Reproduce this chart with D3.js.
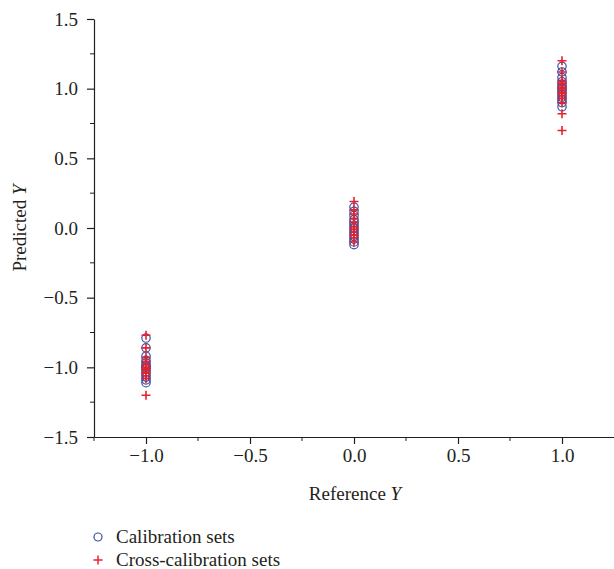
<!DOCTYPE html>
<html>
<head>
<meta charset="utf-8">
<script src="https://cdn.jsdelivr.net/npm/d3@7"></script>
<style>
  body { margin: 0; background: #fff; }
  svg text { font-family: "Liberation Serif", "DejaVu Serif", serif; fill: #231f20; }
</style>
</head>
<body>
<div id="container"></div>
<script>
const width = 614;
const height = 569;
const margin = { top: 19, right: 0, bottom: 132, left: 94 };

// reference classes
const classes = [-1, 0, 1];

// predicted values, one list per class
const calibration = [
    [-0.79, -0.86, -0.92, -0.95, -0.97, -0.99, -1.0, -1.01, -1.03, -1.05, -1.07, -1.09, -1.11],
    [0.15, 0.12, 0.09, 0.06, 0.04, 0.02, 0.0, -0.02, -0.04, -0.06, -0.08, -0.10, -0.12],
    [1.16, 1.12, 1.08, 1.05, 1.03, 1.01, 1.0, 0.98, 0.96, 0.94, 0.92, 0.9, 0.87]
];
const crossCalibration = [
    [-0.77, -0.86, -0.93, -0.96, -0.98, -1.0, -1.01, -1.02, -1.04, -1.06, -1.08, -1.2],
    [0.19, 0.13, 0.1, 0.07, 0.04, 0.01, -0.01, -0.03, -0.05, -0.07, -0.1],
    [1.2, 1.12, 1.06, 1.04, 1.02, 1.0, 0.99, 0.97, 0.95, 0.93, 0.9, 0.82, 0.7]
];

const xTicks = [-1.0, -0.5, 0.0, 0.5, 1.0];
const xMinor = [-1.25, -0.75, -0.25, 0.25, 0.75];
const yTicks = [1.5, 1.0, 0.5, 0.0, -0.5, -1.0, -1.5];
const yMinor = [1.25, 0.75, 0.25, -0.25, -0.75, -1.25];

const blue = "#3a4ea3";
const red = "#e8202a";
const fontSize = 19;
const serif = "'Liberation Serif', 'DejaVu Serif', serif";

const fmt = d => d3.format(".1f")(d).replace("-", "\u2212");

const svg = d3.select("#container").append("svg")
    .attr("width", width)
    .attr("height", height);

const xScale = d3.scaleLinear().domain([-1.25, 1.25]).range([margin.left, width - margin.right]);
const yScale = d3.scaleLinear().domain([-1.5, 1.5]).range([height - margin.bottom, margin.top]);

// x axis
const xaxis = svg.append("g")
    .attr("transform", "translate(0," + (height - margin.bottom) + ")")
    .call(d3.axisBottom(xScale).tickValues(xTicks).tickFormat(fmt).tickSize(7).tickPadding(5).tickSizeOuter(0));
xaxis.append("g").selectAll("line")
    .data(xMinor)
    .enter().append("line")
    .attr("x1", d => xScale(d)).attr("x2", d => xScale(d))
    .attr("y1", 0).attr("y2", 4)
    .attr("stroke", "#231f20");

// y axis
const yaxis = svg.append("g")
    .attr("transform", "translate(" + margin.left + ",0)")
    .call(d3.axisLeft(yScale).tickValues(yTicks).tickFormat(fmt).tickSize(7).tickPadding(9).tickSizeOuter(0));
yaxis.append("g").selectAll("line")
    .data(yMinor)
    .enter().append("line")
    .attr("x1", 0).attr("x2", -4)
    .attr("y1", d => yScale(d)).attr("y2", d => yScale(d))
    .attr("stroke", "#231f20");

svg.selectAll(".domain, .tick line").attr("stroke", "#231f20").attr("stroke-width", 1.2);
xaxis.attr("font-family", serif).attr("font-size", fontSize);
yaxis.attr("font-family", serif).attr("font-size", fontSize);
svg.selectAll(".tick text").attr("fill", "#231f20");

// axis titles
svg.append("text")
    .attr("x", (margin.left + 614) / 2 + 1)
    .attr("y", 500)
    .attr("text-anchor", "middle")
    .style("font-size", fontSize + "px")
    .html("Reference <tspan font-style='italic'>Y</tspan>");

svg.append("text")
    .attr("transform", "translate(26," + yScale(0) + ") rotate(-90)")
    .attr("text-anchor", "middle")
    .style("font-size", fontSize + "px")
    .html("Predicted <tspan font-style='italic'>Y</tspan>");

// points
const calPts = [];
calibration.forEach((vals, i) => vals.forEach(v => calPts.push({ x: classes[i], y: v })));
const crossPts = [];
crossCalibration.forEach((vals, i) => vals.forEach(v => crossPts.push({ x: classes[i], y: v })));

svg.append("g").selectAll("circle")
    .data(calPts)
    .enter().append("circle")
    .attr("cx", d => xScale(d.x))
    .attr("cy", d => yScale(d.y))
    .attr("r", 4.2)
    .attr("fill", "none")
    .attr("stroke", blue)
    .attr("stroke-width", 1.2);

const plusPath = "M-4.5,0H4.5M0,-4.5V4.5";
svg.append("g").selectAll("path")
    .data(crossPts)
    .enter().append("path")
    .attr("transform", d => "translate(" + xScale(d.x) + "," + yScale(d.y) + ")")
    .attr("d", plusPath)
    .attr("stroke", red)
    .attr("stroke-width", 1.6)
    .attr("fill", "none");

// legend
const legend = svg.append("g");
legend.append("circle")
    .attr("cx", 98).attr("cy", 537).attr("r", 4)
    .attr("fill", "none").attr("stroke", blue).attr("stroke-width", 1.2);
legend.append("text")
    .attr("x", 116).attr("y", 543)
    .style("font-size", fontSize + "px")
    .text("Calibration sets");
legend.append("path")
    .attr("transform", "translate(98,560)")
    .attr("d", plusPath)
    .attr("stroke", red).attr("stroke-width", 1.5);
legend.append("text")
    .attr("x", 116).attr("y", 566)
    .style("font-size", fontSize + "px")
    .text("Cross-calibration sets");
</script>
</body>
</html>
